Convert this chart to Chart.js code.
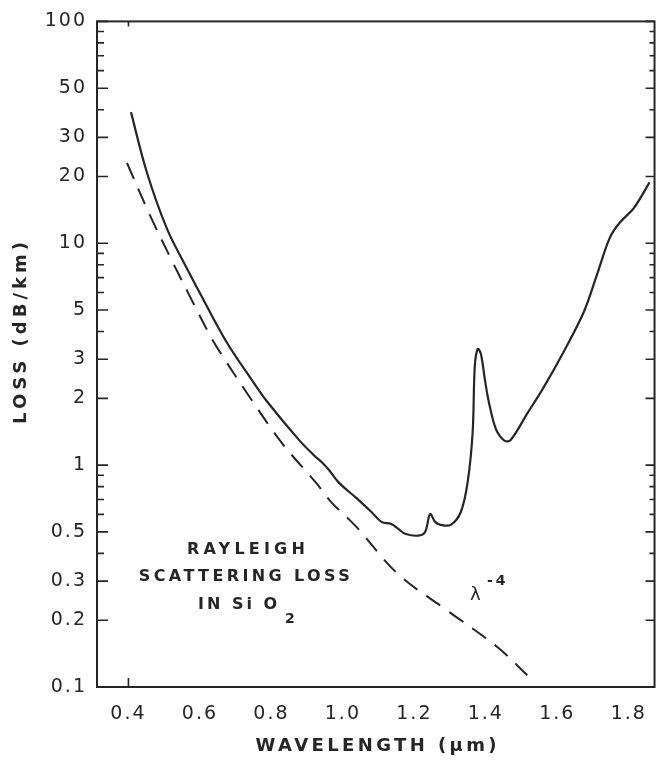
<!DOCTYPE html>
<html>
<head>
<meta charset="utf-8">
<script src="https://cdn.jsdelivr.net/npm/chart.js@4.4.1/dist/chart.umd.min.js"></script>
<style>
  html, body { margin: 0; padding: 0; background: #fff; }
  #wrap { width: 660px; height: 765px; }
</style>
</head>
<body>
<div id="wrap"><canvas id="lossChart" width="660" height="765"></canvas></div>
<script>
const lossWavelength = [0.407, 0.451, 0.507, 0.560, 0.599, 0.674, 0.746, 0.785, 0.877, 0.921, 0.941, 0.960,
    0.988, 1.038, 1.080, 1.108, 1.135, 1.155, 1.174, 1.210, 1.230, 1.244, 1.258, 1.274, 1.302, 1.330,
    1.349, 1.363, 1.369, 1.377, 1.386, 1.397, 1.405, 1.413, 1.424, 1.433, 1.452, 1.469, 1.516, 1.563,
    1.619, 1.675, 1.711, 1.747, 1.775, 1.814, 1.858];
const lossValue = [39, 21, 11.7, 7.9, 6.0, 3.6, 2.41, 1.96, 1.30, 1.10, 1.03, 0.955,
    0.836, 0.71, 0.615, 0.555, 0.543, 0.516, 0.491, 0.481, 0.50, 0.602, 0.555, 0.538, 0.538, 0.615,
    0.836, 1.40, 2.78, 3.34, 3.18, 2.45, 2.05, 1.78, 1.52, 1.40, 1.29, 1.295, 1.71, 2.26,
    3.27, 4.94, 7.22, 10.6, 12.4, 14.4, 18.8];

// rayleigh scattering, dashed curve
const rayleighWavelength = [0.396, 0.460, 0.523, 0.579, 0.626, 0.654, 0.738, 0.829, 0.924, 0.968,
    1.016, 1.043, 1.155, 1.294, 1.433, 1.516];
const rayleighValue = [23.0, 13.4, 8.26, 5.47, 3.90, 3.27, 2.04, 1.26, 0.836, 0.68,
    0.572, 0.516, 0.322, 0.220, 0.151, 0.113];

const xTickLabels = [0.4, 0.6, 0.8, 1.0, 1.2, 1.4, 1.6, 1.8];
const yTickLabels = [0.1, 0.2, 0.3, 0.5, 1, 2, 3, 5, 10, 20, 30, 50, 100];
const yMinorTicks = [0.4, 0.6, 0.7, 0.8, 0.9, 4, 6, 7, 8, 9, 40, 60, 70, 80, 90];
const xMarkedTicks = [0.4];

const ink = '#262626';

function toPoints(xs, ys) {
    return xs.map((x, i) => ({ x: x, y: ys[i] }));
}

// draws the box, inward ticks, titles and the rayleigh note
const frame = {
    id: 'frame',
    beforeDraw(chart) {
        chart.ctx.letterSpacing = '2px';
    },
    afterDraw(chart) {
        const ctx = chart.ctx;
        const a = chart.chartArea;
        const xs = chart.scales.x, ys = chart.scales.y;
        ctx.save();
        ctx.letterSpacing = '0px';
        ctx.strokeStyle = ink;
        ctx.lineWidth = 2;
        ctx.strokeRect(a.left, a.top, a.right - a.left, a.bottom - a.top);

        ctx.beginPath();
        yTickLabels.forEach(v => {
            const py = ys.getPixelForValue(v);
            ctx.moveTo(a.left, py); ctx.lineTo(a.left + 11, py);
            ctx.moveTo(a.right, py); ctx.lineTo(a.right - 9, py);
        });
        yMinorTicks.forEach(v => {
            const py = ys.getPixelForValue(v);
            ctx.moveTo(a.left, py); ctx.lineTo(a.left + 7, py);
            ctx.moveTo(a.right, py); ctx.lineTo(a.right - 5, py);
        });
        xMarkedTicks.forEach(v => {
            const px = xs.getPixelForValue(v);
            ctx.moveTo(px, a.bottom); ctx.lineTo(px, a.bottom - 9);
            ctx.moveTo(px, a.top); ctx.lineTo(px, a.top + 5);
        });
        ctx.lineWidth = 1.6;
        ctx.stroke();

        // axis titles
        ctx.fillStyle = ink;
        ctx.textAlign = 'center';
        ctx.textBaseline = 'middle';
        ctx.font = 'bold 18px "DejaVu Sans"';
        ctx.letterSpacing = '4px';
        ctx.save();
        ctx.translate(21, 331);
        ctx.rotate(-Math.PI / 2);
        ctx.fillText('LOSS (dB/km)', 0, 0);
        ctx.restore();
        ctx.letterSpacing = '3.4px';
        ctx.fillText('WAVELENGTH (\u00b5m)', (a.left + a.right) / 2 + 2, a.bottom + 59);

        // annotation
        ctx.font = 'bold 16px "DejaVu Sans"';
        ctx.letterSpacing = '4.2px';
        ctx.fillText('RAYLEIGH', 248, 550);
        ctx.letterSpacing = '3.4px';
        ctx.fillText('SCATTERING LOSS', 246, 577);
        ctx.textAlign = 'left';
        ctx.letterSpacing = '3px';
        ctx.fillText('IN Si O', 198, 605);
        ctx.font = 'bold 14px "DejaVu Sans"';
        ctx.fillText('2', 285, 619);
        ctx.letterSpacing = '0px';
        ctx.font = '18px "DejaVu Sans"';
        ctx.fillText('\u03bb', 470, 595);
        ctx.letterSpacing = '3px';
        ctx.font = 'bold 14px "DejaVu Sans"';
        ctx.fillText('-4', 487, 581);
        ctx.restore();
    }
};

new Chart(document.getElementById('lossChart'), {
    type: 'line',
    data: {
        datasets: [{
            data: toPoints(lossWavelength, lossValue),
            borderColor: ink,
            borderWidth: 2.2,
            pointRadius: 0,
            tension: 0.35,
            fill: false
        }, {
            data: toPoints(rayleighWavelength, rayleighValue),
            borderColor: ink,
            borderWidth: 2,
            borderDash: [17, 11],
            pointRadius: 0,
            tension: 0.35,
            fill: false
        }]
    },
    options: {
        responsive: false,
        animation: false,
        layout: { padding: { top: 14, right: 2, left: 0, bottom: 0 } },
        plugins: { legend: { display: false }, tooltip: { enabled: false } },
        scales: {
            x: {
                type: 'linear',
                min: 0.312,
                max: 1.872,
                afterBuildTicks: s => { s.ticks = xTickLabels.map(v => ({ value: v })); },
                afterFit: s => { s.height = 78; },
                grid: { display: false, drawTicks: false },
                border: { display: false },
                ticks: {
                    autoSkip: false,
                    maxRotation: 0,
                    padding: 16,
                    color: ink,
                    font: { family: 'DejaVu Sans', size: 19 },
                    callback: v => v.toFixed(1)
                }
            },
            y: {
                type: 'logarithmic',
                min: 0.1,
                max: 100,
                afterBuildTicks: s => { s.ticks = yTickLabels.map(v => ({ value: v })); },
                afterFit: s => { s.width = 97; },
                grid: { display: false, drawTicks: false },
                border: { display: false },
                ticks: {
                    autoSkip: false,
                    padding: 10,
                    color: ink,
                    font: { family: 'DejaVu Sans', size: 19 },
                    callback: v => String(v)
                }
            }
        }
    },
    plugins: [frame]
});
</script>
</body>
</html>
